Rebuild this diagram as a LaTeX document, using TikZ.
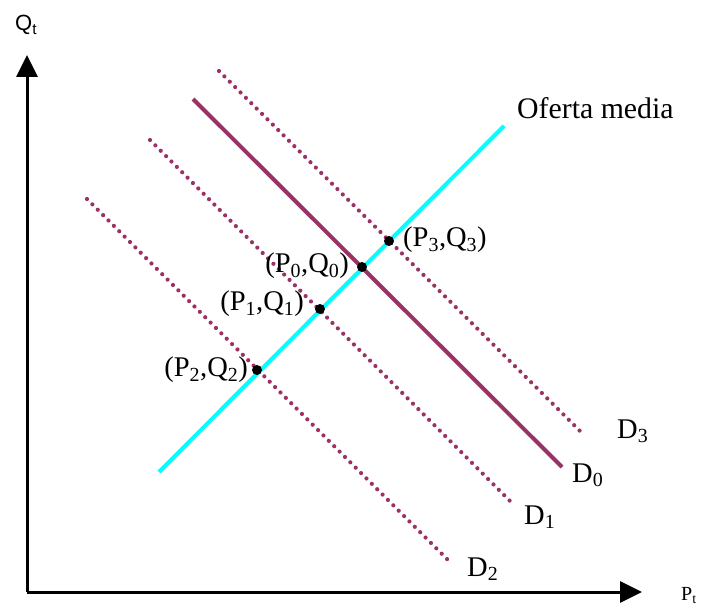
\documentclass[tikz,border=0pt]{standalone}
\usepackage{fontspec}
\setmainfont{Liberation Serif}
\newfontfamily\arialfont{Liberation Sans}
\usetikzlibrary{arrows.meta}
\definecolor{demcol}{HTML}{993366}
\definecolor{ofcol}{HTML}{00FFFF}
\tikzset{
  axisline/.style={line width=3pt,-{Triangle[length=22pt,width=21pt]}},
  demsolid/.style={line width=4pt,draw=demcol},
  demdot/.style={line width=4.2pt,draw=demcol,line cap=round,dash pattern=on 0pt off 7.6pt},
  ofline/.style={line width=4pt,draw=ofcol},
  eqpt/.style={circle,fill=black,inner sep=0pt,minimum size=10pt},
  lbl/.style={inner sep=0pt,font=\fontsize{28.5}{30}\selectfont},
  axlbl/.style={inner sep=0pt,font=\fontsize{20}{22}\selectfont}
}
\begin{document}
\begin{tikzpicture}[x=1pt,y=-1pt]
\useasboundingbox (0,0) rectangle (704,607);
% axes
\coordinate (O) at (27,592);
\coordinate (Ytop) at (27,55);
\coordinate (Xend) at (642,592);
\draw[axisline] (O) -- (Ytop);
\draw[axisline] (O) -- (Xend);
\node[axlbl,anchor=base west,font=\arialfont\fontsize{22}{24}\selectfont] (qt) at (15,31) {Q\textsubscript{t}};
\node[axlbl,anchor=base west] (pt) at (681,600) {P\textsubscript{t}};
% line endpoints
\coordinate (s1) at (159,472); \coordinate (s2) at (504,126);
\coordinate (d0a) at (193,99);  \coordinate (d0b) at (562,467);
\coordinate (d3a) at (219,71);  \coordinate (d3b) at (583,434);
\coordinate (d1a) at (150,140); \coordinate (d1b) at (513,504);
\coordinate (d2a) at (87,199);  \coordinate (d2b) at (451,563);
\draw[demdot] (d3a) -- (d3b);
\draw[demdot] (d1a) -- (d1b);
\draw[demdot] (d2a) -- (d2b);
\draw[demsolid] (d0a) -- (d0b);
\draw[ofline] (s1) -- (s2);
% equilibrium points
\node[eqpt] (e0) at (362,267) {};
\node[eqpt] (e1) at (320,309) {};
\node[eqpt] (e2) at (257,370) {};
\node[eqpt] (e3) at (389,241) {};
% labels
\node[lbl,anchor=east] (l0) at (349,266) {(P\textsubscript{0},Q\textsubscript{0})};
\node[lbl,anchor=east] (l1) at (304,304) {(P\textsubscript{1},Q\textsubscript{1})};
\node[lbl,anchor=east] (l2) at (248,370) {(P\textsubscript{2},Q\textsubscript{2})};
\node[lbl,anchor=west] (l3) at (403,240) {(P\textsubscript{3},Q\textsubscript{3})};
\node[lbl,anchor=base west] (ld3) at (617,438) {D\textsubscript{3}};
\node[lbl,anchor=base west] (ld0) at (572,482) {D\textsubscript{0}};
\node[lbl,anchor=base west] (ld1) at (524,524) {D\textsubscript{1}};
\node[lbl,anchor=base west] (ld2) at (467,576) {D\textsubscript{2}};
\node[lbl,anchor=base west,font=\fontsize{29.8}{31}\selectfont] (lof) at (517,119) {Oferta media};
\end{tikzpicture}
\end{document}
